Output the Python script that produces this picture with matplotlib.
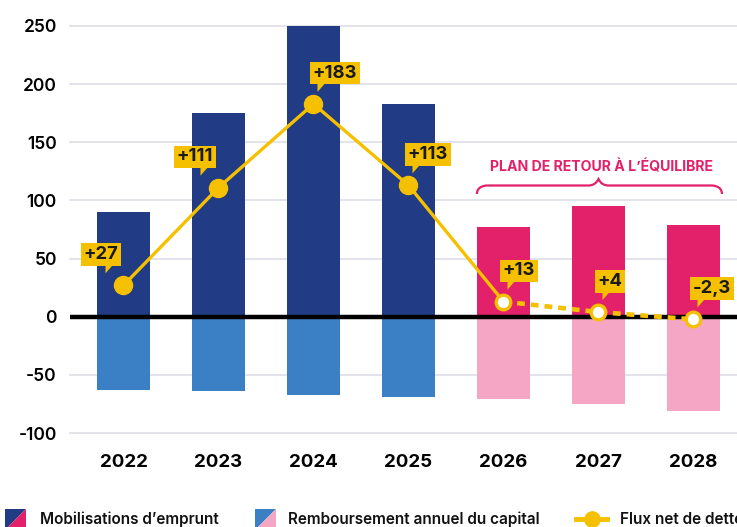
import matplotlib
matplotlib.use("Agg")
import matplotlib.pyplot as plt
from matplotlib.patches import Polygon, PathPatch
from matplotlib.path import Path
from matplotlib.lines import Line2D

plt.rcParams['font.family'] = ['Inter', 'DejaVu Sans']

# ---- data ----
years = ["2022", "2023", "2024", "2025", "2026", "2027", "2028"]
mobilisations = [90, 175, 250, 183, 77, 95, 79]
remboursements = [-63, -64, -67, -69, -71, -75, -81]
flux_net = [27, 111, 183, 113, 13, 4, -2.3]
yticks = [-100, -50, 0, 50, 100, 150, 200, 250]
n_hist = 4  # first 4 years historical, the rest = plan

NAVY = "#213B84"
BLUE = "#3B80C4"
PINK = "#E3206A"
LPINK = "#F4A6C4"
YEL = "#F5C000"
GRID = "#E3E3EB"

W, H = 737, 527
fig = plt.figure(figsize=(W / 100, H / 100), dpi=100)

def F(x, y):
    """pixel (from top-left) -> figure fraction"""
    return (x / W, 1 - y / H)

ax = fig.add_axes([70 / W, (H - 433) / H, (W - 70) / W, (433 - 26) / H])
xs = list(range(len(years)))
ax.set_xlim(-0.563, 6.458)
ax.set_ylim(-100, 250)

for v in yticks:
    if v != 0:
        ax.axhline(v, color=GRID, lw=1.4, zorder=0, clip_on=False)

pos_colors = [NAVY if i < n_hist else PINK for i in xs]
neg_colors = [BLUE if i < n_hist else LPINK for i in xs]
bw = 0.558
ax.bar(xs, mobilisations, width=bw, color=pos_colors, zorder=2)
ax.bar(xs, remboursements, width=bw, color=neg_colors, zorder=2)
ax.axhline(0, color="black", lw=3.2, zorder=3, solid_capstyle="round")

# line
ax.plot(xs[:n_hist + 1], flux_net[:n_hist + 1], color=YEL, lw=2.4, zorder=4,
        solid_capstyle="round")
ax.plot(xs[n_hist:], flux_net[n_hist:], color=YEL, lw=3.3, zorder=4,
        dashes=(1.7, 1.3))
ax.plot(xs[:n_hist], flux_net[:n_hist], "o", color=YEL, ms=13, zorder=5)
ax.plot(xs[n_hist:], flux_net[n_hist:], "o", mfc="white", mec=YEL, mew=2.4,
        ms=10.5, zorder=5)

ax.set_yticks(yticks)
ax.set_yticklabels([str(v) for v in yticks], fontsize=12.5, fontweight="semibold")
ax.set_xticks(xs)
ax.set_xticklabels(years, fontsize=13.5, fontweight="bold")
ax.tick_params(axis="y", length=0, pad=9.5)
ax.tick_params(axis="x", length=0, pad=15)
for s in ax.spines.values():
    s.set_visible(False)

# ---- value labels ----
def pix(x, y):
    dx, dy = ax.transData.transform((x, y))
    return dx, H - dy

def fmt(v):
    s = f"{v:+g}".replace(".", ",")
    return s

for i, v in enumerate(flux_net):
    px, py = pix(i, v)
    left_side = i < 2
    bottom = py - 20
    pad = 2.2
    if left_side:
        tx, ha = px - 3 - pad, "right"
        plx = px - 18
    else:
        tx, ha = px - 3 + pad, "left"
        plx = px + 4
    fig.text(*F(tx, bottom - pad), fmt(v), ha=ha, va="bottom", fontsize=13.3,
             fontweight="bold", color="#1a1a1a", zorder=7,
             bbox=dict(boxstyle="square,pad=0.15", fc=YEL, ec="none"))
    tri = [F(plx, bottom - 1), F(plx + 8, bottom - 1), F(plx, bottom + 8)]
    fig.add_artist(Polygon(tri, closed=True, fc=YEL, ec="none", zorder=6))

# ---- plan brace ----
x0, _ = pix(3.72, 0)
x1, _ = pix(6.3, 0)
xm, _ = pix(5.0, 0)
yb, yf, yp = 194, 185.5, 179
verts = [F(x0, yb), F(x0, yf), F(x0 + 10, yf), F(x0 + 10, yf),
         F(xm - 10, yf), F(xm - 3, yf), F(xm, yp),
         F(xm + 3, yf), F(xm + 10, yf),
         F(x1 - 10, yf), F(x1 - 10, yf), F(x1, yf), F(x1, yb)]
codes = [Path.MOVETO, Path.CURVE4, Path.CURVE4, Path.CURVE4,
         Path.LINETO, Path.CURVE3, Path.CURVE3,
         Path.CURVE3, Path.CURVE3,
         Path.LINETO, Path.CURVE4, Path.CURVE4, Path.CURVE4]
fig.add_artist(PathPatch(Path(verts, codes), fc="none", ec=PINK, lw=1.6,
                         transform=fig.transFigure))
fig.text(*F(xm + 3, 167), "PLAN DE RETOUR À L’ÉQUILIBRE", ha="center", va="center",
         fontsize=10.2, fontweight="bold", color=PINK)

# ---- legend ----
def legend_square(x, y, c1, c2, s=21):
    fig.add_artist(Polygon([F(x, y), F(x + s, y), F(x, y + s)], fc=c1, ec="none"))
    fig.add_artist(Polygon([F(x + s, y), F(x + s, y + s), F(x, y + s)], fc=c2, ec="none"))

legend_square(5, 509, NAVY, PINK)
fig.text(*F(40, 519), "Mobilisations d’emprunt", ha="left", va="center",
         fontsize=11, fontweight="semibold", color="#111111")
legend_square(255, 509, BLUE, LPINK)
fig.text(*F(288, 519), "Remboursement annuel du capital", ha="left", va="center",
         fontsize=11, fontweight="semibold", color="#111111")
fig.add_artist(Line2D([576 / W, 607 / W], [1 - 519 / H] * 2, color=YEL, lw=3.5))
fig.add_artist(Line2D([591.5 / W], [1 - 519 / H], marker="o", color=YEL, ms=11))
fig.text(*F(620, 519), "Flux net de dette", ha="left", va="center",
         fontsize=11, fontweight="semibold", color="#111111")

fig.savefig("out.png", dpi=100)
